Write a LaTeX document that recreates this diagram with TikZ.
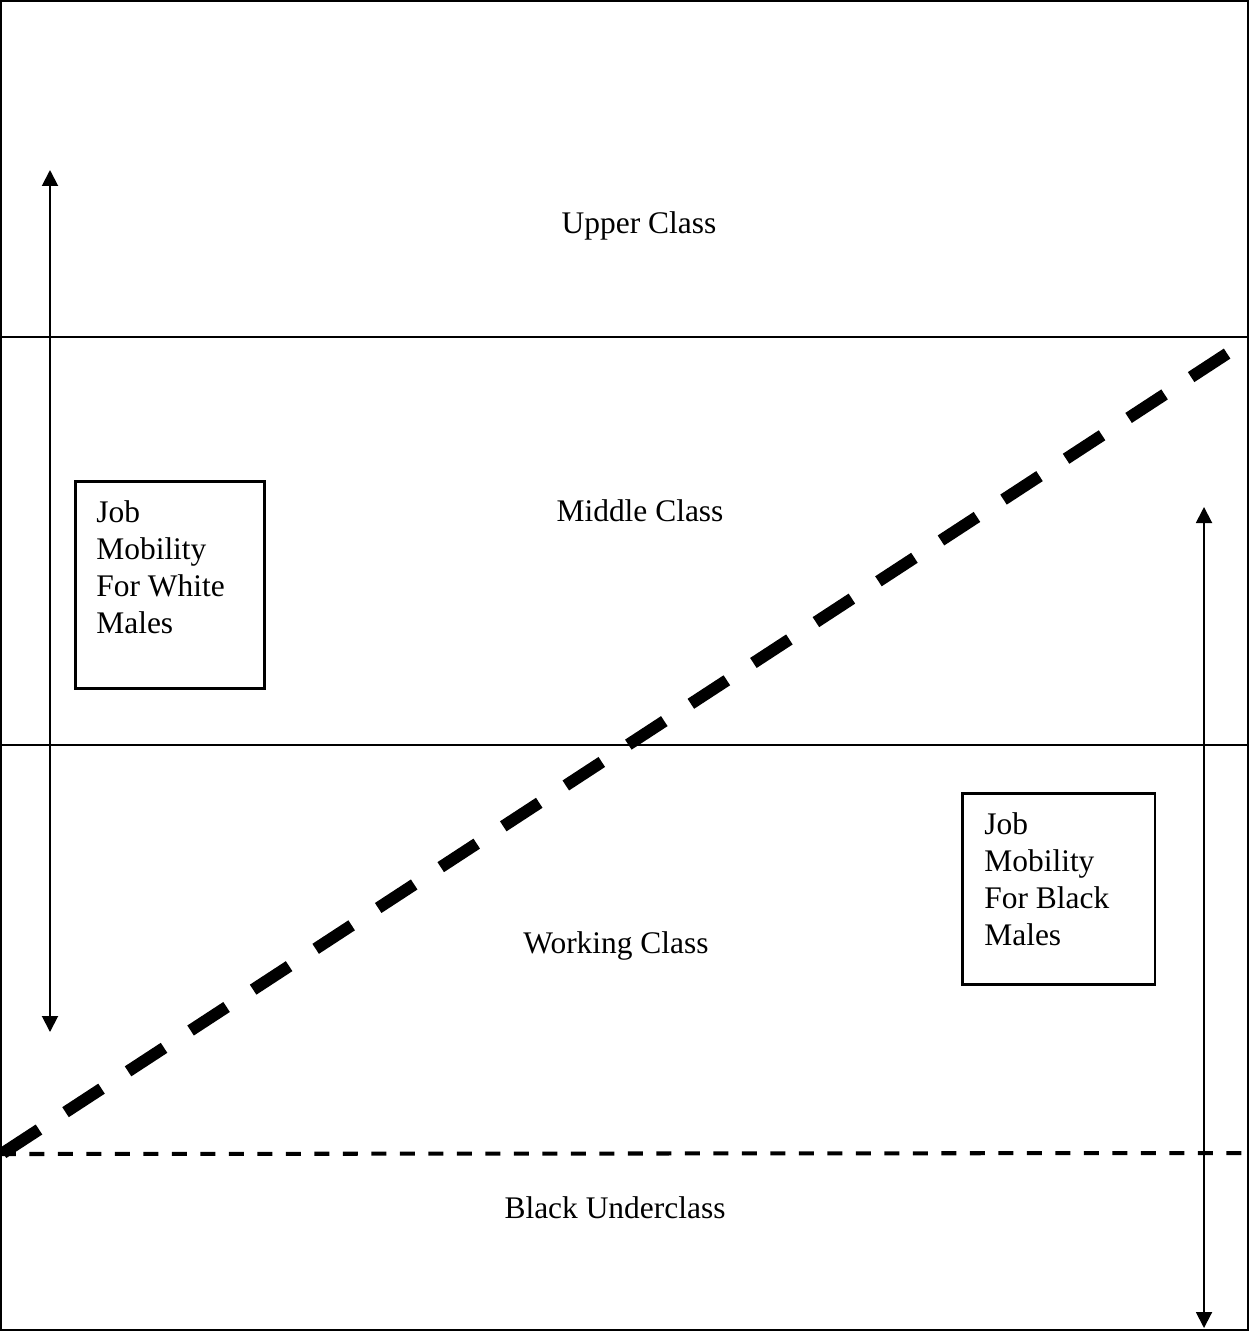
\documentclass[tikz,border=0pt]{standalone}
\usepackage{fontspec}
\setmainfont{Liberation Serif}
\usetikzlibrary{arrows.meta}

\tikzset{
  band/.style={line width=1.1pt},
  mobbox/.style={draw, line width=1.7pt, inner sep=0pt},
  boxtext/.style={align=left, anchor=base west, inner sep=0pt,
    font=\fontsize{17.9}{21}\selectfont},
  classlabel/.style={anchor=base, inner sep=0pt,
    font=\fontsize{17.9}{21}\selectfont},
  mobarrow/.style={line width=1.1pt,
    {Triangle[length=0.32cm,width=0.32cm]}-{Triangle[length=0.32cm,width=0.32cm]}}
}

\begin{document}
\begin{tikzpicture}[x=0.02cm, y=-0.02cm]
        \useasboundingbox (0,0) rectangle (1250,1331);
        \draw[band] (1,1) rectangle (1248,1330);
        \draw[band] (1,337)--(1248,337);
        \draw[band] (1,745)--(1248,745);
        \draw[line width=2.3pt, dash pattern=on 0.3cm off 0.27cm] (1,1154)--(1248,1153);
        \draw[line width=6.8pt, dash pattern=on 0.86cm off 0.634cm] (3,1153)--(1228,353);

        \coordinate (wtop) at (50,170);
        \coordinate (wbot) at (50,1032);
        \coordinate (btop) at (1204,507);
        \coordinate (bbot) at (1204,1328);
        \draw[mobarrow] (wtop)--(wbot);
        \draw[mobarrow] (btop)--(bbot);

        \node[classlabel] (upper) at (639,234) {Upper Class};
        \node[classlabel] (middle) at (640,521) {Middle Class};
        \node[classlabel] (working) at (616,953) {Working Class};
        \node[classlabel] (under) at (615,1218) {Black Underclass};

        \node[mobbox, minimum width=3.8cm, minimum height=4.16cm] (whitebox) at (170,585) {};
        \node[boxtext] (whitetext) at (96,633) {Job\\Mobility\\For White\\Males};
        \node[mobbox, minimum width=3.86cm, minimum height=3.84cm] (blackbox) at (1058.5,889) {};
        \node[boxtext] (blacktext) at (984,945) {Job\\Mobility\\For Black\\Males};
    \end{tikzpicture}
\end{document}
